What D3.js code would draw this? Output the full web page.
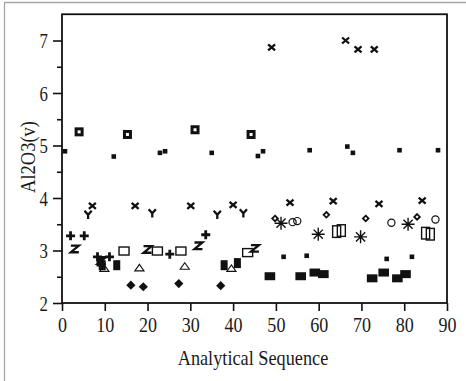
<!DOCTYPE html>
<html>
<head>
<meta charset="utf-8">
<script src="https://cdn.jsdelivr.net/npm/d3@7"></script>
<style>
  html, body { margin: 0; padding: 0; background: #fff; }
  svg { display: block; }
</style>
</head>
<body>
<svg id="chart" width="466" height="381"></svg>
<script>
// ---- values: analytical sequence number and Al2O3(v) for each marker group ----
const crossSeq = [49.0, 66.3, 69.2, 73.0, 7.1, 17.1, 30.1, 40.0, 53.3, 63.4, 74.1, 84.2];
const crossVal = [6.87, 7.00, 6.83, 6.83, 3.85, 3.85, 3.85, 3.87, 3.91, 3.94, 3.89, 3.95];

const ySeq = [6.1, 21.1, 36.3, 42.4];
const yVal = [3.68, 3.71, 3.68, 3.71];

const zSeq = [3.0, 9.3, 20.0, 31.9, 45.1];
const zVal = [3.03, 2.81, 3.02, 3.09, 3.04];

const plusSeq = [2.0, 5.2, 8.3, 11.1, 25.2, 33.6];
const plusVal = [3.28, 3.28, 2.88, 2.88, 2.93, 3.30];

const boldBoxSeq = [4.0, 15.3, 31.1, 44.2];
const boldBoxVal = [5.26, 5.21, 5.30, 5.21];

const dotSeq = [0.7, 12.1, 22.9, 24.1, 35.0, 45.8, 47.0, 57.9, 66.7, 68.0, 78.9, 87.9,
                51.8, 57.2, 75.9, 81.8];
const dotVal = [4.89, 4.79, 4.86, 4.89, 4.86, 4.80, 4.89, 4.91, 4.98, 4.86, 4.91, 4.91,
                2.88, 2.90, 2.84, 2.88];

const openBoxSeq = [14.5, 22.3, 27.8, 43.4];
const openBoxVal = [2.99, 2.99, 2.99, 2.96];

const triSeq = [9.9, 18.1, 28.7, 39.6];
const triVal = [2.66, 2.67, 2.70, 2.66];

const tallBlockSeq = [8.9, 9.4, 12.8, 37.9, 41.0];
const tallBlockVal = [2.79, 2.72, 2.72, 2.72, 2.76];

const wideBlockSeq = [48.6, 55.8, 59.1, 61.1, 72.5, 75.2, 78.4, 80.3];
const wideBlockVal = [2.51, 2.51, 2.58, 2.55, 2.47, 2.58, 2.47, 2.55];

const diamondSeq = [16.1, 19.0, 27.3, 37.1];
const diamondVal = [2.34, 2.31, 2.37, 2.33];

const starSeq = [51.2, 59.9, 69.8, 80.9];
const starVal = [3.52, 3.31, 3.26, 3.50];

const smallDiaSeq = [49.8, 61.8, 71.0, 83.0];
const smallDiaVal = [3.61, 3.68, 3.61, 3.64];

const ringSeq = [53.9, 55.0, 77.0, 87.3];
const ringVal = [3.54, 3.56, 3.53, 3.59];

const pairBoxSeq = [64.2, 65.3, 85.0, 86.1];
const pairBoxVal = [3.36, 3.38, 3.33, 3.31];

const xTicks = [0, 10, 20, 30, 40, 50, 60, 70, 80, 90];
const yTicks = [2, 3, 4, 5, 6, 7];
const yMinorTicks = [2.5, 3.5, 4.5, 5.5, 6.5];

const xTitle = "Analytical Sequence";
const yTitle = "Al2O3(v)";

// ---- layout ----
const svg = d3.select("#chart");
const plot = { left: 62, right: 447, top: 14.25, bottom: 303 };
const serif = "'Liberation Serif', 'Times New Roman', Times, serif";

const x = d3.scaleLinear().domain([0, 90]).range([plot.left, plot.right]);
const y = d3.scaleLinear().domain([2, 7.5]).range([plot.bottom, plot.top]);

// outer panel edge
svg.append("path")
  .attr("d", "M4.5,381V2.5H466")
  .attr("fill", "none").attr("stroke", "#a6a6a6").attr("stroke-width", 1.3);

// squeeze a text run horizontally to the narrow face used on this chart
function squeeze(sel, f) {
  sel.each(function () {
    const len = this.getComputedTextLength();
    d3.select(this).attr("textLength", len * f).attr("lengthAdjust", "spacingAndGlyphs");
  });
}

// ---- axes ----
const xAxis = svg.append("g")
  .attr("transform", `translate(0,${plot.bottom})`)
  .call(d3.axisBottom(x).tickValues(xTicks).tickSize(8).tickSizeOuter(0).tickFormat(d3.format("d")));
xAxis.attr("font-family", null).attr("font-size", null);
xAxis.select(".domain").remove();
xAxis.selectAll(".tick line").attr("stroke", "#111").attr("stroke-width", 1.6);
xAxis.selectAll(".tick text")
  .attr("y", 29).attr("dy", null).attr("fill", "#1a1a1a")
  .style("font-family", serif).style("font-size", "22px");
squeeze(xAxis.selectAll(".tick text"), 0.82);

const yAxis = svg.append("g")
  .attr("transform", `translate(${plot.left},0)`)
  .call(d3.axisLeft(y).tickValues(yTicks).tickSize(9).tickPadding(5).tickSizeOuter(0).tickFormat(d3.format("d")));
yAxis.attr("font-family", null).attr("font-size", null);
yAxis.select(".domain").remove();
yAxis.selectAll(".tick line").attr("stroke", "#111").attr("stroke-width", 1.6);
yAxis.selectAll(".tick text")
  .attr("dy", "0.36em").attr("fill", "#1a1a1a")
  .style("font-family", serif).style("font-size", "20px");
squeeze(yAxis.selectAll(".tick text"), 0.84);

const yMinor = svg.append("g")
  .attr("transform", `translate(${plot.left},0)`)
  .call(d3.axisLeft(y).tickValues(yMinorTicks).tickSize(5).tickSizeOuter(0).tickFormat(""));
yMinor.select(".domain").remove();
yMinor.selectAll(".tick line").attr("stroke", "#111").attr("stroke-width", 1.6);

// plot frame
svg.append("rect")
  .attr("x", plot.left).attr("y", plot.top)
  .attr("width", plot.right - plot.left).attr("height", plot.bottom - plot.top)
  .attr("fill", "none").attr("stroke", "#111").attr("stroke-width", 1.8);

// axis titles
const xt = svg.append("text")
  .attr("x", 253).attr("y", 365)
  .attr("text-anchor", "middle").attr("fill", "#1a1a1a")
  .style("font-family", serif).style("font-size", "22px").text(xTitle);
squeeze(xt, 0.83);

const yt = svg.append("text")
  .attr("transform", "translate(35,157) rotate(-90)")
  .attr("text-anchor", "middle").attr("fill", "#1a1a1a")
  .style("font-family", serif).style("font-size", "21px").text(yTitle);
squeeze(yt, 0.88);

// ---- marker shapes ----
const ink = "#111";
const markers = {
  cross:   g => g.append("path").attr("d", "M-3.5,-3L3.5,3M-3.5,3L3.5,-3").attr("stroke", ink).attr("stroke-width", 2.3).attr("fill", "none"),
  ymark:   g => g.append("path").attr("d", "M-3.6,-4L0,0L3.6,-4M0,0V4.2").attr("stroke", ink).attr("stroke-width", 2.3).attr("fill", "none"),
  zmark:   g => g.append("path").attr("d", "M-4,-3.3H4L-4,3.3H4").attr("stroke", ink).attr("stroke-width", 2.3).attr("fill", "none"),
  plus:    g => g.append("path").attr("d", "M-4.5,0H4.5M0,-4.5V4.5").attr("stroke", ink).attr("stroke-width", 2.8).attr("fill", "none"),
  boldBox: g => g.append("rect").attr("x", -3).attr("y", -3).attr("width", 6).attr("height", 6).attr("stroke", ink).attr("stroke-width", 3).attr("fill", "#fff"),
  dot:     g => g.append("rect").attr("x", -2.3).attr("y", -2.3).attr("width", 4.6).attr("height", 4.6).attr("fill", ink),
  openBox: g => g.append("rect").attr("x", -5).attr("y", -4).attr("width", 10).attr("height", 8).attr("stroke", ink).attr("stroke-width", 1.4).attr("fill", "none"),
  tri:     g => g.append("path").attr("d", "M0,-3.5L4.6,3L-4.6,3Z").attr("stroke", ink).attr("stroke-width", 1.1).attr("fill", "#fff"),
  tallBlock: g => g.append("rect").attr("x", -3.5).attr("y", -5).attr("width", 7).attr("height", 10).attr("fill", ink),
  wideBlock: g => g.append("rect").attr("x", -5.3).attr("y", -4).attr("width", 10.6).attr("height", 8).attr("fill", ink),
  diamond: g => g.append("path").attr("d", "M0,-4.6L4.6,0L0,4.6L-4.6,0Z").attr("fill", ink),
  star:    g => g.append("path").attr("d", "M0,-6.5V6.5M-6.5,0H6.5M-4.6,-4.6L4.6,4.6M-4.6,4.6L4.6,-4.6").attr("stroke", ink).attr("stroke-width", 1.4).attr("fill", "none"),
  smallDia: g => g.append("path").attr("d", "M0,-2.8L2.8,0L0,2.8L-2.8,0Z").attr("stroke", ink).attr("stroke-width", 1.8).attr("fill", "#fff"),
  ring:    g => g.append("circle").attr("r", 3.6).attr("stroke", ink).attr("stroke-width", 1.2).attr("fill", "none"),
  pairBox: g => g.append("rect").attr("x", -4).attr("y", -5.8).attr("width", 8).attr("height", 11.6).attr("stroke", ink).attr("stroke-width", 1.4).attr("fill", "none")
};

const series = [
  { seq: boldBoxSeq,   val: boldBoxVal,   mark: "boldBox" },
  { seq: dotSeq,       val: dotVal,       mark: "dot" },
  { seq: crossSeq,     val: crossVal,     mark: "cross" },
  { seq: ySeq,         val: yVal,         mark: "ymark" },
  { seq: triSeq,       val: triVal,       mark: "tri" },
  { seq: openBoxSeq,   val: openBoxVal,   mark: "openBox" },
  { seq: zSeq,         val: zVal,         mark: "zmark" },
  { seq: tallBlockSeq, val: tallBlockVal, mark: "tallBlock" },
  { seq: plusSeq,      val: plusVal,      mark: "plus" },
  { seq: wideBlockSeq, val: wideBlockVal, mark: "wideBlock" },
  { seq: diamondSeq,   val: diamondVal,   mark: "diamond" },
  { seq: ringSeq,      val: ringVal,      mark: "ring" },
  { seq: smallDiaSeq,  val: smallDiaVal,  mark: "smallDia" },
  { seq: starSeq,      val: starVal,      mark: "star" },
  { seq: pairBoxSeq,   val: pairBoxVal,   mark: "pairBox" }
];

const marks = svg.append("g");
series.forEach(s => {
  const pts = s.seq.map((q, i) => ({ q, v: s.val[i] }));
  marks.append("g").attr("class", "series-" + s.mark)
    .selectAll("g").data(pts).join("g")
    .attr("transform", d => `translate(${x(d.q)},${y(d.v)})`)
    .each(function () { markers[s.mark](d3.select(this)); });
});
</script>
</body>
</html>
